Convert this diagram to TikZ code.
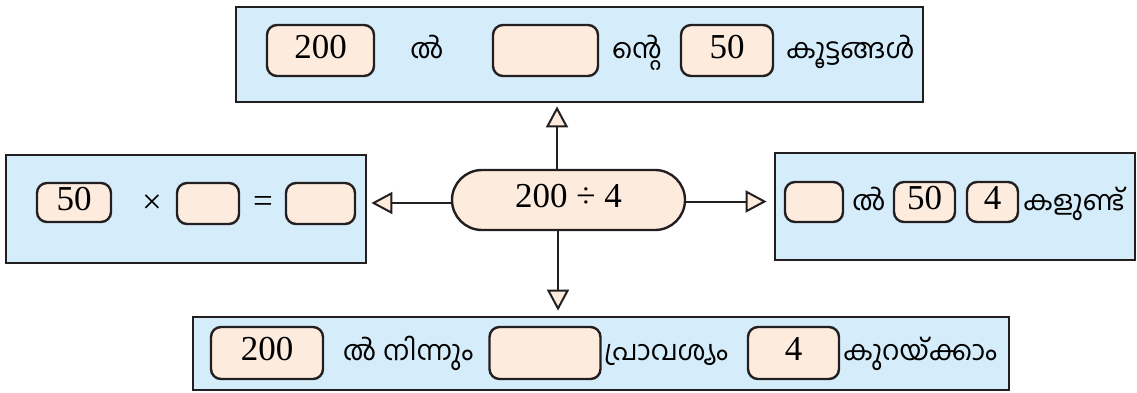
\documentclass[tikz,border=0pt]{standalone}
\usepackage{fontspec}
\setmainfont{Liberation Serif}
\newfontfamily\mlfont[Script=Malayalam]{Hind Kochi}
\usetikzlibrary{arrows.meta}
\definecolor{bluef}{HTML}{D5EDFA}
\definecolor{peach}{HTML}{FDEBDE}
\definecolor{ink}{HTML}{231F20}
\tikzset{
  panel/.style={draw=ink, line width=2.8pt, fill=bluef, inner sep=0},
  slot/.style={draw=ink, line width=2.4pt, fill=peach, rounded corners=10pt, inner sep=0,
    text height=23pt, text depth=8pt, font=\fontsize{35}{40}\selectfont},
  mltext/.style={anchor=base, inner sep=0, font=\mlfont\fontsize{27.5}{33}\selectfont},
  optext/.style={inner sep=0, font=\fontsize{35}{40}\selectfont},
  arr/.style={draw=ink, line width=2pt, -{Triangle[length=21pt,width=22pt,line width=2pt,fill=peach]}}
}
\begin{document}
\begin{tikzpicture}[x=1pt,y=-1pt]
\useasboundingbox (0,0) rectangle (1137,392);
% panels
\node[panel, minimum width=687pt, minimum height=95pt] (top) at (579.5,54.5) {};
\node[panel, minimum width=360pt, minimum height=108pt] (left) at (186,209) {};
\node[panel, minimum width=360pt, minimum height=107pt] (right) at (955,206.5) {};
\node[panel, minimum width=816pt, minimum height=73pt] (bottom) at (601,353.5) {};
% centre
\node[slot, rounded corners=30pt, minimum width=233pt, minimum height=60pt] (ell) at (568.5,200) {200 ÷ 4};
\coordinate (upx) at (557,0);
\coordinate (dnx) at (558,0);
\coordinate (ly) at (0,203);
\coordinate (ry) at (0,201.5);
\draw[arr, shorten >=3pt] (ell.north -| upx) -- (top.south -| upx);
\draw[arr, shorten >=5pt] (ell.south -| dnx) -- (bottom.north -| dnx);
\draw[arr, shorten >=4pt] (ell.west |- ly) -- (left.east |- ly);
\draw[arr, shorten >=7pt] (ell.east |- ry) -- (right.west |- ry);
% top row
\node[slot, minimum width=107pt, minimum height=51pt] (t1) at (320.5,50.5) {200};
\node[mltext] (t2) at (427,58) {ൽ};
\node[slot, minimum width=105pt, minimum height=51pt] (t3) at (545.5,50.5) {};
\node[mltext] (t4) at (637,58) {ന്റെ};
\node[slot, minimum width=92pt, minimum height=51pt] (t5) at (727,50.5) {50};
\node[mltext, anchor=base west] (t6) at (786,58) {കൂട്ടങ്ങൾ};
% left row
\node[slot, minimum width=74pt, minimum height=39pt] (l1) at (74,202.5) {50};
\node[optext] (l2) at (152,204) {×};
\node[slot, minimum width=62pt, minimum height=41pt] (l3) at (208,203.5) {};
\node[optext] (l4) at (263,204) {=};
\node[slot, minimum width=69pt, minimum height=41pt] (l5) at (320.5,203.5) {};
% right row
\node[slot, minimum width=58pt, minimum height=40pt] (r1) at (814,202) {};
\node[mltext] (r2) at (869,210) {ൽ};
\node[slot, minimum width=61pt, minimum height=40pt] (r3) at (924.5,202) {50};
\node[slot, minimum width=51pt, minimum height=40pt] (r4) at (992.5,202) {4};
\node[mltext, anchor=base west] (r5) at (1023,210) {കളുണ്ട്};
% bottom row
\node[slot, minimum width=112pt, minimum height=52pt] (b1) at (267,353) {200};
\node[mltext] (b2) at (408,360) {ൽ നിന്നും};
\node[slot, minimum width=111pt, minimum height=52pt] (b3) at (545,353) {};
\node[mltext] (b4) at (666,360) {പ്രാവശ്യം};
\node[slot, minimum width=91pt, minimum height=52pt] (b5) at (793.5,353) {4};
\node[mltext] (b6) at (920,360) {കുറയ്ക്കാം};
\end{tikzpicture}
\end{document}
